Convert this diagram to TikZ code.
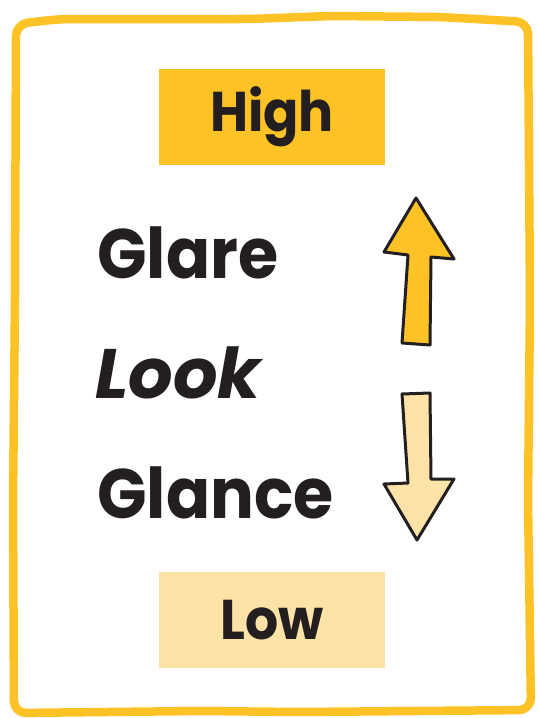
\documentclass[tikz,border=0pt]{standalone}
\usepackage{fontspec}
\setmainfont{Poppins}
\newfontfamily\narrowfont[FakeStretch=0.93]{Poppins}
\definecolor{gold}{HTML}{FDC225}
\definecolor{pale}{HTML}{FEE3A8}
\definecolor{ink}{HTML}{231F20}
\begin{document}
\begin{tikzpicture}[x=1pt,y=-1pt,
  frame/.style={draw=gold,line width=8.5pt,rounded corners=12pt,line join=round},
  levelbox/.style={minimum width=226pt,minimum height=96pt,inner sep=0pt,font=\narrowfont\fontsize{56}{60}\selectfont\bfseries,text=ink},
  word/.style={anchor=base west,inner sep=0pt,font=\narrowfont\fontsize{70}{76}\selectfont\bfseries,text=ink},
  arrowshape/.style={draw=ink,line width=3pt,line join=round}]
\useasboundingbox (0,0) rectangle (536,718);
\draw[frame] (16,24) -- (60,19) -- (250,19) -- (330,16) -- (440,17) -- (528,22)
  -- (530,300) -- (528,500) -- (531,710) -- (300,712) -- (200,711) -- (14,713)
  -- (13,500) -- (15,300) -- cycle;
\node[levelbox,fill=gold] (high) at (272,117) {High};
\node[levelbox,fill=pale] (low) at (272,620) {Low};
\node[word] (glare) at (97,278) {Glare};
\node[word,font=\fontsize{70}{76}\selectfont\bfseries\itshape] (look) at (95,398) {Look};
\node[word] (glance) at (97,518) {Glance};
\draw[arrowshape,fill=gold] (416,198) -- (454,259) -- (431,257) -- (430,345) -- (402,343)
  -- (408,255) -- (384,252) -- cycle;
\draw[arrowshape,fill=pale] (402,394) -- (430,393) -- (431,479) -- (454,479) -- (417,540)
  -- (384,484) -- (408,483) -- cycle;
\end{tikzpicture}
\end{document}
